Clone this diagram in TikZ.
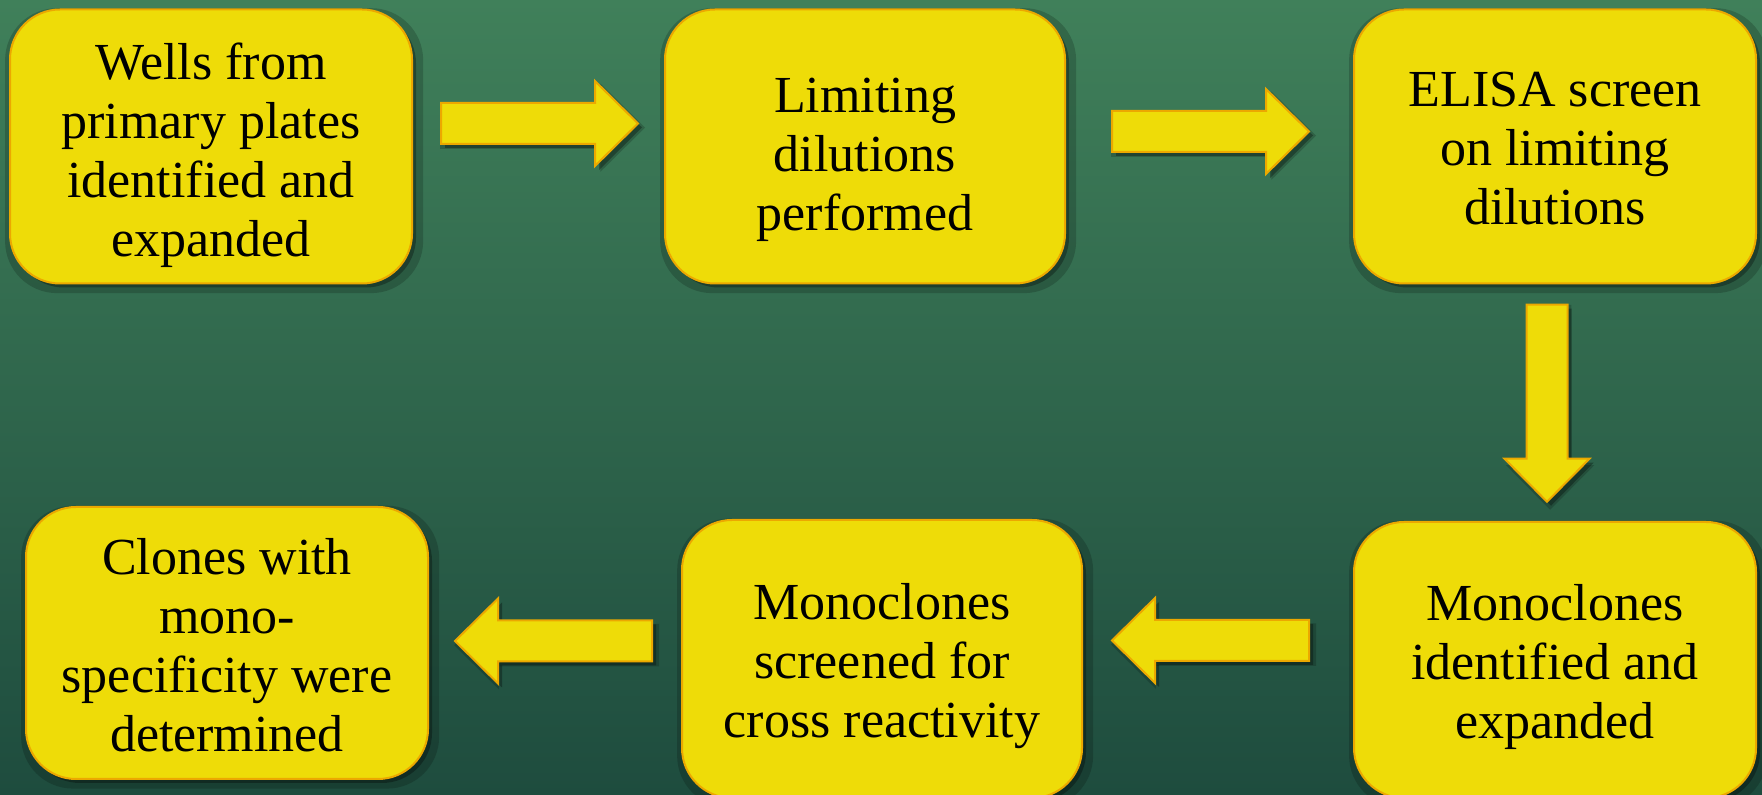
\documentclass[tikz,border=0pt]{standalone}
\usepackage{fontspec}
\setmainfont{Liberation Serif}
\usetikzlibrary{calc,shadows}
\definecolor{bgtop}{RGB}{64,128,90}
\definecolor{bgmid}{RGB}{44,97,74}
\definecolor{bgbot}{RGB}{30,76,62}
\definecolor{boxfill}{RGB}{238,220,8}
\definecolor{boxline}{RGB}{236,168,0}
\tikzset{
  myshadow/.style={
    general shadow={fill=black,opacity=.18,shadow xshift=1.5pt,shadow yshift=-2pt,shadow scale=1.04},
    general shadow={fill=black,opacity=.3,shadow xshift=2pt,shadow yshift=-2pt}},
  stepbox/.style={myshadow,draw=boxline,line width=1pt,fill=boxfill,rounded corners=25pt,
    minimum width=201pt,minimum height=137pt,inner sep=0pt},
  steptext/.style={align=center,text=black,font=\fontsize{26}{29.5}\selectfont,inner sep=0pt},
  arrowstyle/.style={myshadow,draw=boxline,line width=1pt,fill=boxfill,line join=miter},
  barrow/.pic={\path[arrowstyle] (-98.5,-20.5) -- (55.5,-20.5) -- (55.5,-42.5) -- (98.5,0)
     -- (55.5,42.5) -- (55.5,20.5) -- (-98.5,20.5) -- cycle;}
}
\begin{document}
\begin{tikzpicture}[x=0.5pt,y=-0.5pt]
\useasboundingbox (0,0) rectangle (1762,795);
\clip (0,0) rectangle (1762,795);
\shade[top color=bgtop,middle color=bgmid,bottom color=bgbot] (0,0) rectangle (1762,795);
\node[stepbox] (b1) at (211,146.5) {};
\node[stepbox,minimum width=200pt] (b2) at (865,146.5) {};
\node[stepbox] (b3) at (1555,146.5) {};
\node[stepbox,minimum height=138pt] (b4) at (1555,660) {};
\node[stepbox,minimum width=200pt,minimum height=139pt] (b5) at (882,659) {};
\node[stepbox,minimum height=136pt] (b6) at (227,643) {};
\node[steptext] (t1) at ($(b1.center)+(0,9)$) {Wells from\\primary plates\\identified and\\expanded};
\node[steptext] (t2) at ($(b2.center)+(0,13.5)$) {Limiting\\dilutions\\performed};
\node[steptext] (t3) at ($(b3.center)+(0,2)$) {ELISA screen\\on limiting\\dilutions};
\node[steptext] (t4) at ($(b4.center)+(0,7)$) {Monoclones\\identified and\\expanded};
\node[steptext] (t5) at ($(b5.center)+(0,7)$) {Monoclones\\screened for\\cross reactivity};
\node[steptext] (t6) at ($(b6.center)+(0,2)$) {Clones with\\mono-\\specificity were\\determined};
\coordinate (a1) at ($(b1.east)!0.5!(b2.west)+(1,-23)$);
\coordinate (a2) at ($(b2.east)!0.5!(b3.west)+(1,-15)$);
\coordinate (a3) at ($(b3.south)!0.5!(b4.north)+(-8,0.5)$);
\coordinate (a4) at ($(b5.east)!0.5!(b4.west)+(-7.5,-19)$);
\coordinate (a5) at ($(b6.east)!0.5!(b5.west)+(-1.5,-10)$);
\pic at (a1) {barrow};
\pic at (a2) {barrow};
\pic[rotate=-90] at (a3) {barrow};
\pic[rotate=180] at (a4) {barrow};
\pic[rotate=180] at (a5) {barrow};
\end{tikzpicture}
\end{document}
